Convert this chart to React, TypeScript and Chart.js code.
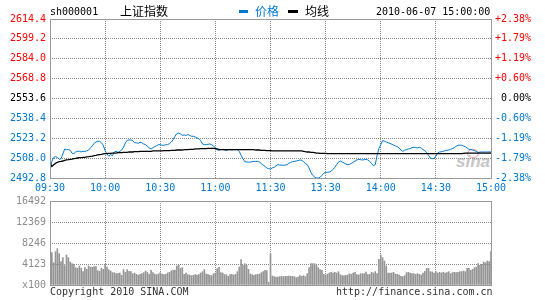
import React, { useEffect, useRef } from 'react';
import { Chart, registerables } from 'chart.js';

Chart.register(...registerables);

const MONO = '"DejaVu Sans Mono", monospace';
const CJK = '"Noto Sans CJK SC", sans-serif';
const BLUE = '#0078cd';
const RED = '#ff0000';
const GRID = '#8a8a8a';
const FRAME = '#999999';
const BAR = '#959595';

// minute index 0 = 09:30 ... 120 = 11:30/13:00 ... 240 = 15:00
const TIME_TICKS = [0, 30, 60, 90, 120, 150, 180, 210, 240];
const TIME_LABELS = ['09:30', '10:00', '10:30', '11:00', '11:30', '13:30', '14:00', '14:30', '15:00'];

const PRICE_TICKS = [2492.8, 2508.0, 2523.2, 2538.4, 2553.6, 2568.8, 2584.0, 2599.2, 2614.4];
const PRICE_LABELS = ['2492.8', '2508.0', '2523.2', '2538.4', '2553.6', '2568.8', '2584.0', '2599.2', '2614.4'];
const PCT_LABELS = ['-2.38%', '-1.79%', '-1.19%', '-0.60%', ' 0.00%', '+0.60%', '+1.19%', '+1.79%', '+2.38%'];

const VOL_TICKS = [0, 4123, 8246, 12369, 16492];
const VOL_LABELS = ['x100', '4123', '8246', '12369', '16492'];

const PRICE = [
  2499.2, 2505.5, 2508.6, 2509.1, 2508.6, 2507.1, 2507.6, 2511.2, 2515.0, 2514.5,
  2514.5, 2514.0, 2511.7, 2511.4, 2512.7, 2513.2, 2513.2, 2512.7, 2513.2, 2513.2,
  2513.5, 2514.2, 2515.8, 2517.3, 2519.3, 2520.3, 2520.9, 2520.9, 2519.8, 2517.8,
  2513.7, 2511.2, 2509.4, 2510.7, 2509.9, 2512.7, 2513.2, 2512.4, 2513.2, 2514.2,
  2516.3, 2519.6, 2521.6, 2521.9, 2521.9, 2521.4, 2519.8, 2519.8, 2519.3, 2520.1,
  2519.8, 2518.8, 2518.3, 2517.0, 2515.8, 2515.0, 2516.0, 2516.8, 2517.5, 2518.3,
  2518.3, 2517.8, 2517.8, 2518.3, 2518.3, 2519.1, 2520.3, 2522.1, 2524.7, 2526.7,
  2527.2, 2526.5, 2525.4, 2525.7, 2525.4, 2526.0, 2525.4, 2524.7, 2524.7, 2524.2,
  2523.4, 2522.9, 2521.4, 2518.8, 2518.3, 2518.3, 2518.6, 2518.8, 2518.3, 2517.3,
  2515.8, 2514.2, 2514.0, 2514.5, 2514.7, 2514.2, 2513.7, 2514.5, 2514.5, 2514.2,
  2514.5, 2514.5, 2514.5, 2513.2, 2510.1, 2507.6, 2505.3, 2505.0, 2505.0, 2505.0,
  2505.3, 2505.5, 2505.5, 2505.5, 2505.0, 2503.8, 2502.7, 2501.7, 2500.5, 2499.9,
  2499.7,
  2500.5, 2501.0, 2502.2, 2503.0, 2502.7, 2502.7, 2502.5, 2502.7, 2503.0,
  2504.0, 2504.8, 2505.3, 2505.5, 2505.8, 2506.1, 2506.6, 2506.3, 2505.3, 2503.8,
  2503.0, 2500.5, 2497.1, 2494.8, 2493.6, 2492.8, 2492.8, 2493.3, 2494.8, 2496.4,
  2497.1, 2497.1, 2497.4, 2497.9, 2499.4, 2501.0, 2503.0, 2505.0, 2505.8, 2505.0,
  2504.3, 2503.5, 2503.0, 2503.3, 2504.0, 2504.8, 2505.8, 2506.6, 2507.1, 2506.8,
  2506.6, 2506.8, 2507.1, 2506.6, 2505.5, 2503.8, 2502.2, 2503.0, 2510.1, 2515.3,
  2518.3, 2521.4, 2520.9, 2520.3, 2519.8, 2519.3, 2518.6, 2518.0, 2517.3, 2516.8,
  2515.8, 2514.2, 2513.2, 2514.0, 2514.5, 2515.0, 2515.3, 2516.0, 2516.3, 2516.0,
  2515.8, 2516.3, 2515.8, 2514.5, 2513.7, 2512.4, 2510.1, 2508.1, 2507.6, 2507.8,
  2509.4, 2511.9, 2512.7, 2512.9, 2513.2, 2513.7, 2514.0, 2514.2, 2514.7, 2515.3,
  2516.0, 2517.0, 2517.8, 2518.0, 2517.8, 2517.3, 2516.8, 2515.8, 2514.7, 2514.5,
  2514.2, 2513.7, 2513.2, 2512.2, 2512.7, 2512.7, 2512.7, 2512.7, 2512.7, 2512.7,
  2512.7,
];

const AVERAGE = [
  2504.3, 2501.7, 2503.0, 2504.0, 2504.8, 2505.3, 2505.5, 2505.8, 2506.3, 2506.6,
  2506.8, 2507.1, 2507.3, 2507.6, 2507.8, 2508.1, 2508.4, 2508.4, 2508.6, 2508.6,
  2508.9, 2509.1, 2509.4, 2509.6, 2509.9, 2510.1, 2510.4, 2510.7, 2510.9, 2511.2,
  2511.4, 2511.4, 2511.7, 2511.7, 2511.9, 2511.9, 2511.9, 2512.2, 2512.2, 2512.2,
  2512.4, 2512.4, 2512.4, 2512.7, 2512.7, 2512.7, 2512.9, 2512.9, 2512.9, 2513.2,
  2513.2, 2513.2, 2513.2, 2513.2, 2513.2, 2513.2, 2513.5, 2513.5, 2513.5, 2513.5,
  2513.5, 2513.5, 2513.7, 2513.7, 2513.7, 2513.7, 2514.0, 2514.0, 2514.0, 2514.2,
  2514.2, 2514.2, 2514.2, 2514.5, 2514.5, 2514.5, 2514.7, 2514.7, 2514.7, 2515.0,
  2515.0, 2515.0, 2515.3, 2515.3, 2515.3, 2515.3, 2515.5, 2515.5, 2515.5, 2515.5,
  2515.3, 2515.0, 2514.7, 2514.5, 2514.5, 2514.5, 2514.5, 2514.5, 2514.5, 2514.5,
  2514.5, 2514.5, 2514.5, 2514.5, 2514.5, 2514.5, 2514.5, 2514.5, 2514.5, 2514.5,
  2514.5, 2514.5, 2514.2, 2514.2, 2514.2, 2514.0, 2514.0, 2514.0, 2513.7, 2513.7,
  2513.7, 2513.5, 2513.5, 2513.5, 2513.5, 2513.5, 2513.5, 2513.5, 2513.5, 2513.5,
  2513.5, 2513.5, 2513.5, 2513.5, 2513.5, 2513.5, 2513.5, 2513.5, 2513.2, 2512.9,
  2512.7, 2512.7, 2512.4, 2512.4, 2512.2, 2511.9, 2511.9, 2511.7, 2511.7, 2511.7,
  2511.7, 2511.4, 2511.4, 2511.4, 2511.4, 2511.4, 2511.4, 2511.4, 2511.4, 2511.4,
  2511.4, 2511.4, 2511.4, 2511.4, 2511.4, 2511.4, 2511.4, 2511.4, 2511.4, 2511.4,
  2511.4, 2511.4, 2511.4, 2511.4, 2511.4, 2511.4, 2511.4, 2511.4, 2511.4, 2511.4,
  2511.4, 2511.4, 2511.4, 2511.4, 2511.4, 2511.4, 2511.4, 2511.4, 2511.4, 2511.4,
  2511.4, 2511.4, 2511.4, 2511.4, 2511.4, 2511.4, 2511.4, 2511.4, 2511.4, 2511.4,
  2511.4, 2511.4, 2511.4, 2511.4, 2511.4, 2511.4, 2511.4, 2511.4, 2511.4, 2511.4,
  2511.4, 2511.4, 2511.4, 2511.4, 2511.4, 2511.4, 2511.4, 2511.4, 2511.4, 2511.4,
  2511.4, 2511.4, 2511.4, 2511.4, 2511.4, 2511.7, 2511.9, 2511.9, 2511.9, 2511.9,
  2511.9, 2511.9, 2511.9, 2511.9, 2511.9, 2511.9, 2511.9, 2511.9, 2511.9, 2511.9,
  2511.9,
];

// volume in units of 100 lots
const VOLUME = [
  16492, 6348, 4384, 6544, 7133, 6151, 4581, 5366, 3796, 5890,
  5366, 4515, 4188, 4057, 3403, 3272, 3730, 3272, 2618, 3403,
  3076, 3730, 3534, 3468, 3599, 3599, 2814, 2683, 3272, 3076,
  4057, 3534, 3010, 2748, 2421, 2421, 2225, 2290, 2356, 1898,
  3010, 2487, 3010, 2683, 2618, 2225, 2356, 2094, 1963, 2094,
  2225, 2421, 2748, 2487, 2094, 2879, 2421, 2160, 2029, 2160,
  2421, 2160, 2029, 2094, 2356, 2487, 2748, 2879, 2945, 3730,
  3861, 3272, 3403, 2094, 2356, 2029, 1963, 1832, 1898, 2029,
  1963, 2029, 2356, 2618, 3010, 2160, 2094, 1898, 1832, 2225,
  2356, 3207, 3468, 2421, 2356, 2029, 2029, 1701, 2029, 2094,
  1963, 2094, 2618, 3534, 4973, 3861, 4188, 3861, 3076, 2160,
  2029, 1898, 2029, 2094, 2160, 2421, 2618, 2879, 2814, 520,
  6151,
  1767, 1636, 1571, 1571, 1636, 1701, 1636, 1701, 1701,
  1767, 1701, 1701, 1636, 1440, 1571, 1832, 1701, 1832, 1636,
  2225, 3403, 4188, 4188, 4188, 3861, 3403, 3010, 2879, 2094,
  1963, 2160, 2356, 2487, 2356, 2487, 2356, 2618, 2029, 1832,
  1832, 1898, 1963, 2225, 2094, 2356, 2487, 2029, 1963, 2225,
  2225, 2225, 2552, 2029, 2094, 2487, 2356, 2618, 2225, 5039,
  5890, 5366, 4712, 3730, 2356, 2356, 2356, 2487, 2160, 2094,
  1963, 1701, 1636, 1832, 2421, 2487, 2356, 2225, 2225, 2094,
  2225, 2094, 1963, 2356, 2683, 3272, 3272, 2618, 2552, 2356,
  2618, 2356, 2487, 2356, 2487, 2356, 2421, 2618, 2225, 2421,
  2487, 2421, 2487, 2618, 2618, 2748, 2618, 3272, 3272, 2879,
  3076, 3403, 3534, 4188, 3861, 4057, 4515, 4384, 4712, 4581,
  6544,
];

const tickColorAt = (i: number) => (i < 4 ? BLUE : i === 4 ? '#000000' : RED);

const framePlugin = {
  id: 'frame',
  afterDraw(chart: any) {
    const { ctx, chartArea: a } = chart;
    ctx.save();
    ctx.setLineDash([]);
    ctx.strokeStyle = FRAME;
    ctx.lineWidth = 1;
    ctx.strokeRect(a.left + 0.5, a.top + 0.5, a.right - a.left, a.bottom - a.top);
    ctx.restore();
  },
};

const tickFont = { family: MONO, size: 10, lineHeight: 1.2 };
const gridOpts = { display: true, drawOnChartArea: true, color: GRID, lineWidth: 1, drawTicks: false };
const borderOpts = { display: false, dash: [1, 1] };

const textStyle = (extra: any): any => ({
  position: 'absolute',
  whiteSpace: 'pre',
  fontFamily: MONO,
  fontSize: 10,
  lineHeight: '12px',
  color: '#000',
  ...extra,
});

export default function App() {
  const priceRef = useRef<HTMLCanvasElement>(null);
  const volRef = useRef<HTMLCanvasElement>(null);

  useEffect(() => {
    const priceChart = new Chart(priceRef.current as HTMLCanvasElement, {
      type: 'line',
      data: {
        datasets: [
          {
            label: '均线',
            data: AVERAGE.map((y, x) => ({ x, y })),
            borderColor: '#000000',
            borderWidth: 1.3,
            pointRadius: 0,
            tension: 0,
            fill: false,
            order: 0,
          },
          {
            label: '价格',
            data: PRICE.map((y, x) => ({ x, y })),
            borderColor: BLUE,
            borderWidth: 1,
            pointRadius: 0,
            tension: 0,
            fill: false,
            order: 1,
          },
        ],
      },
      options: {
        responsive: false,
        animation: false,
        events: [],
        layout: { padding: { top: 19, bottom: 100, left: 0, right: 0 } },
        plugins: { legend: { display: false }, tooltip: { enabled: false } },
        scales: {
          x: {
            type: 'linear',
            min: 0,
            max: 240,
            offset: false,
            afterBuildTicks: (s: any) => {
              s.ticks = TIME_TICKS.map((v) => ({ value: v }));
            },
            afterFit: (s: any) => {
              s.height = 22;
            },
            grid: gridOpts,
            border: borderOpts,
            ticks: {
              color: BLUE,
              font: tickFont,
              padding: 4,
              maxRotation: 0,
              autoSkip: false,
              callback: (_v: any, i: number) => TIME_LABELS[i],
            },
          },
          y: {
            type: 'linear',
            position: 'left',
            min: PRICE_TICKS[0],
            max: PRICE_TICKS[PRICE_TICKS.length - 1],
            afterBuildTicks: (s: any) => {
              s.ticks = PRICE_TICKS.map((v) => ({ value: v }));
            },
            afterFit: (s: any) => {
              s.width = 50;
            },
            grid: gridOpts,
            border: borderOpts,
            ticks: {
              color: (c: any) => tickColorAt(c.index),
              font: tickFont,
              padding: 4,
              callback: (_v: any, i: number) => PRICE_LABELS[i],
            },
          },
          yr: {
            type: 'linear',
            position: 'right',
            min: PRICE_TICKS[0],
            max: PRICE_TICKS[PRICE_TICKS.length - 1],
            afterBuildTicks: (s: any) => {
              s.ticks = PRICE_TICKS.map((v) => ({ value: v }));
            },
            afterFit: (s: any) => {
              s.width = 54;
            },
            grid: { drawOnChartArea: false, drawTicks: false },
            border: { display: false },
            ticks: {
              color: (c: any) => tickColorAt(c.index),
              font: tickFont,
              padding: 4,
              callback: (_v: any, i: number) => PCT_LABELS[i],
            },
          },
        },
      },
      plugins: [framePlugin],
    } as any);

    const volChart = new Chart(volRef.current as HTMLCanvasElement, {
      type: 'bar',
      data: {
        datasets: [
          {
            label: '成交量',
            data: VOLUME.map((y, x) => ({ x, y })),
            backgroundColor: BAR,
            borderWidth: 0,
            barThickness: 1,
          },
        ],
      },
      options: {
        responsive: false,
        animation: false,
        events: [],
        layout: { padding: { top: 201, bottom: 15, left: 0, right: 54 } },
        plugins: { legend: { display: false }, tooltip: { enabled: false } },
        scales: {
          x: {
            type: 'linear',
            min: 0,
            max: 240,
            offset: false,
            afterBuildTicks: (s: any) => {
              s.ticks = TIME_TICKS.map((v) => ({ value: v }));
            },
            afterFit: (s: any) => {
              s.height = 0;
            },
            grid: { ...gridOpts, offset: false },
            border: borderOpts,
            ticks: { display: false },
          },
          y: {
            type: 'linear',
            position: 'left',
            min: 0,
            max: VOL_TICKS[VOL_TICKS.length - 1],
            afterBuildTicks: (s: any) => {
              s.ticks = VOL_TICKS.map((v) => ({ value: v }));
            },
            afterFit: (s: any) => {
              s.width = 50;
            },
            grid: gridOpts,
            border: borderOpts,
            ticks: {
              color: '#8c8c8c',
              font: tickFont,
              padding: 4,
              callback: (_v: any, i: number) => VOL_LABELS[i],
            },
          },
        },
      },
      plugins: [framePlugin],
    } as any);

    return () => {
      priceChart.destroy();
      volChart.destroy();
    };
  }, []);

  return (
    <div
      style={{
        position: 'absolute',
        left: 0,
        top: 0,
        width: 545,
        height: 300,
        overflow: 'hidden',
        background: '#ffffff',
      }}
    >
      {/* sina watermark */}
      <div
        style={{
          position: 'absolute',
          left: 467,
          top: 149,
          width: 10,
          height: 7,
          border: '1.5px solid #f2b0b0',
          borderRadius: '50%',
        }}
      />
      <div
        style={{
          position: 'absolute',
          left: 456,
          top: 152,
          fontFamily: '"Liberation Sans", sans-serif',
          fontWeight: 'bold',
          fontStyle: 'italic',
          fontSize: 17,
          lineHeight: '20px',
          color: '#c6c6c6',
        }}
      >
        sina
      </div>

      <canvas ref={priceRef} width={545} height={300} style={{ position: 'absolute', left: 0, top: 0 }} />
      <canvas ref={volRef} width={545} height={300} style={{ position: 'absolute', left: 0, top: 0 }} />

      <div style={textStyle({ left: 50, top: 6 })}>sh000001</div>
      <div style={textStyle({ left: 120, top: 4, fontFamily: CJK, fontSize: 12, lineHeight: '14px' })}>上证指数</div>
      <div style={{ position: 'absolute', left: 239, top: 10, width: 9, height: 3, background: BLUE }} />
      <div style={textStyle({ left: 255, top: 4, fontFamily: CJK, fontSize: 12, lineHeight: '14px', color: BLUE })}>价格</div>
      <div style={{ position: 'absolute', left: 288, top: 10, width: 10, height: 3, background: '#000' }} />
      <div style={textStyle({ left: 305, top: 4, fontFamily: CJK, fontSize: 12, lineHeight: '14px' })}>均线</div>
      <div style={textStyle({ left: 376, top: 6 })}>2010-06-07 15:00:00</div>

      <div style={textStyle({ left: 50, top: 286, color: '#333' })}>Copyright 2010 SINA.COM</div>
      <div style={textStyle({ left: 336, top: 286, color: '#333' })}>http://finance.sina.com.cn</div>
    </div>
  );
}
